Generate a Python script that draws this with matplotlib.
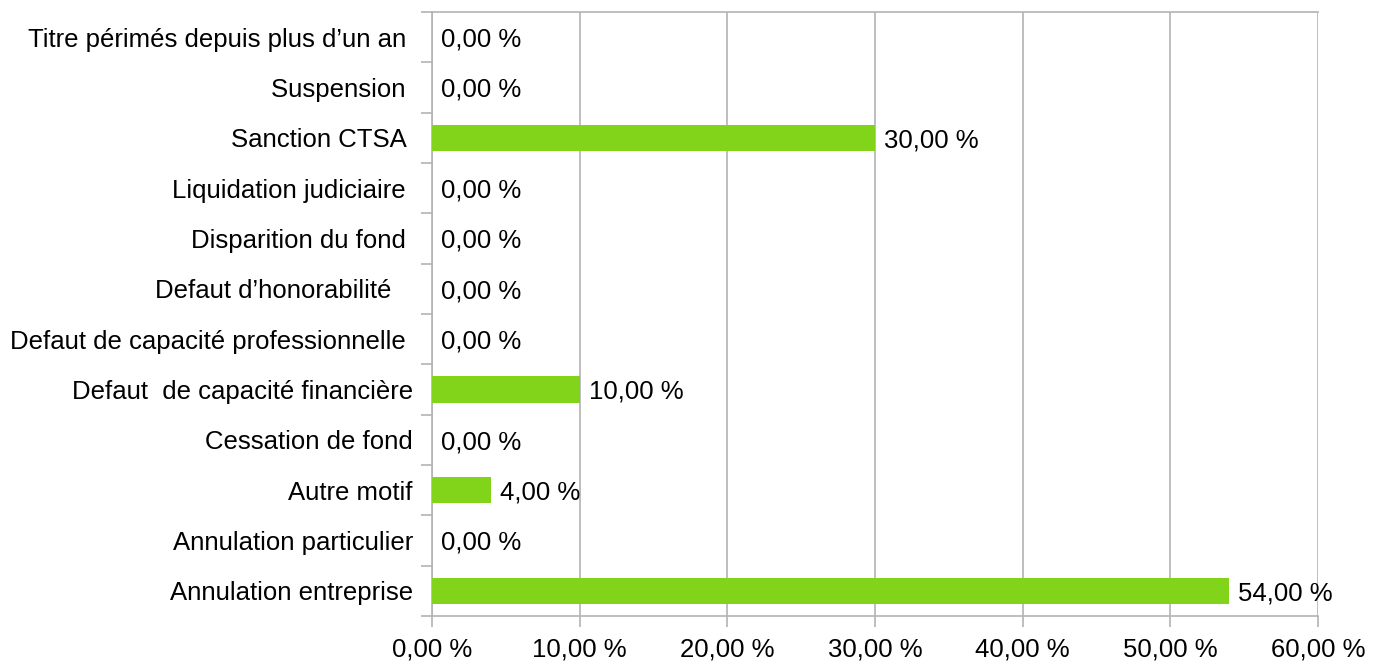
import numpy as np
import matplotlib.pyplot as plt

plt.rcParams['font.family'] = ['Liberation Sans', 'DejaVu Sans']

# categories from bottom to top
categories = [
    "Annulation entreprise",
    "Annulation particulier",
    "Autre motif",
    "Cessation de fond",
    "Defaut  de capacité financière",
    "Defaut de capacité professionnelle ",
    "Defaut d\u2019honorabilité   ",
    "Disparition du fond ",
    "Liquidation judiciaire ",
    "Sanction CTSA ",
    "Suspension ",
    "Titre périmés depuis plus d\u2019un an ",
]
values = [54.0, 0.0, 4.0, 0.0, 10.0, 0.0, 0.0, 0.0, 0.0, 30.0, 0.0, 0.0]
x_ticks = [0, 10, 20, 30, 40, 50, 60]

def pct(v):
    return f"{v:.2f} %".replace('.', ',')

grey = '#b3b3b3'
fs = 18.5

fig = plt.figure(figsize=(13.81, 6.64), dpi=100)
ax = fig.add_axes([0.3128, 0.0723, 0.6416, 0.9097])

y = np.arange(len(categories))
ax.barh(y, values, height=0.52, color='#81d41a', zorder=3)

for yi, v in zip(y, values):
    ax.annotate(pct(v), (v, yi), xytext=(6.5, 0), textcoords='offset points',
                va='center_baseline', ha='left', fontsize=fs, color='black', zorder=4)

ax.set_xlim(0, 60)
ax.set_ylim(-0.5, len(categories) - 0.5)
ax.set_xticks(x_ticks)
ax.set_xticklabels([pct(t) for t in x_ticks], fontsize=fs)
ax.set_yticks(y)
ax.set_yticklabels(categories, fontsize=fs, va='center_baseline')
ax.set_yticks(np.arange(-0.5, len(categories)), minor=True)

ax.tick_params(axis='y', which='major', length=0, pad=13.7)
ax.tick_params(axis='y', which='minor', length=8, color=grey, width=1.2)
ax.tick_params(axis='x', which='major', length=8, color=grey, width=1.2, pad=7.5)

ax.grid(axis='x', color=grey, linewidth=1.2, zorder=0)
for side in ['left', 'bottom', 'top']:
    ax.spines[side].set_color(grey)
    ax.spines[side].set_linewidth(1.2)
ax.spines['right'].set_visible(False)

fig.savefig('out.png', dpi=100)
